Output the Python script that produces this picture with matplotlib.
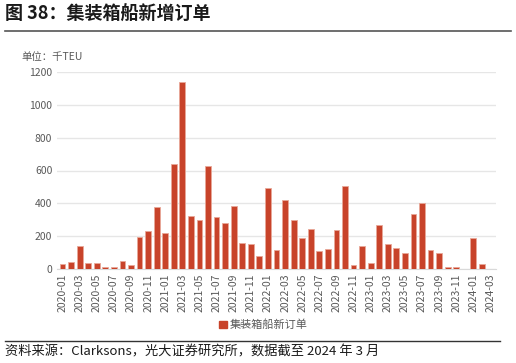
import matplotlib.pyplot as plt
from matplotlib.lines import Line2D
from matplotlib.patches import Patch

plt.rcParams['font.family'] = ['Noto Sans CJK SC', 'DejaVu Sans']

# monthly new containership orders, thousand TEU
months = [f"{y}-{m:02d}" for y in range(2020, 2025) for m in range(1, 13)][:51]
orders = [
    28, 43, 138, 39, 39, 14, 12, 47, 26, 193, 232, 378,
    218, 641, 1141, 323, 299, 626, 317, 281, 384, 159, 155, 79,
    496, 118, 419, 297, 191, 244, 112, 124, 236, 504, 22, 138,
    39, 270, 155, 126, 98, 334, 401, 116, 96, 14, 12, 0,
    187, 28, 0,
]
yticks = [0, 200, 400, 600, 800, 1000, 1200]

bar_color = '#C8432A'
gray = '#595959'

fig = plt.figure(figsize=(5.16, 3.63), dpi=100)
ax = fig.add_axes([56.5 / 516, 94 / 363, 440 / 516, 197 / 363])

x = list(range(len(months)))
ax.bar(x, orders, width=0.68, color=bar_color, edgecolor='#E8A898', linewidth=0.6, zorder=3)

ax.set_xlim(-0.7, len(months) - 0.3)
ax.set_ylim(0, 1200)
ax.set_yticks(yticks)
ax.set_yticklabels([str(v) for v in yticks], fontsize=7.5, color=gray)
ax.set_xticks(x[::2])
ax.set_xticklabels(months[::2], rotation=90, fontsize=7.5, color=gray)
ax.tick_params(length=0, pad=3)
ax.grid(axis='y', color='#E6E6E6', linewidth=1, zorder=0)
for s in ['top', 'right', 'left']:
    ax.spines[s].set_visible(False)
ax.spines['bottom'].set_color('#D9D9D9')

# title and unit
fig.text(5 / 516, 1 - 14 / 363, '图 38：集装箱船新增订单', fontsize=13, fontweight='bold',
         va='center', ha='left', color='#1a1a1a')
fig.add_artist(Line2D([5 / 516, 511 / 516], [1 - 31 / 363] * 2, color='#555555', linewidth=1.2))
fig.text(21 / 516, 1 - 57 / 363, '单位：千TEU', fontsize=7.5, color=gray, va='center', ha='left')

# legend
handle = Patch(color=bar_color, label='集装箱船新订单')
ax.legend(handles=[handle], loc='center', bbox_to_anchor=(0.51, 1 - 325 / 363),
          bbox_transform=fig.transFigure, frameon=False, fontsize=8,
          handlelength=0.7, handleheight=0.7, handletextpad=0.2, labelcolor=gray)

# source
fig.add_artist(Line2D([5 / 516, 500 / 516], [1 - 341 / 363] * 2, color='#333333', linewidth=1))
fig.text(5 / 516, 1 - 352 / 363, '资料来源：Clarksons，光大证券研究所，数据截至 2024 年 3 月',
         fontsize=9.5, va='center', ha='left', color='#1a1a1a')

fig.savefig('out.png', dpi=100)
